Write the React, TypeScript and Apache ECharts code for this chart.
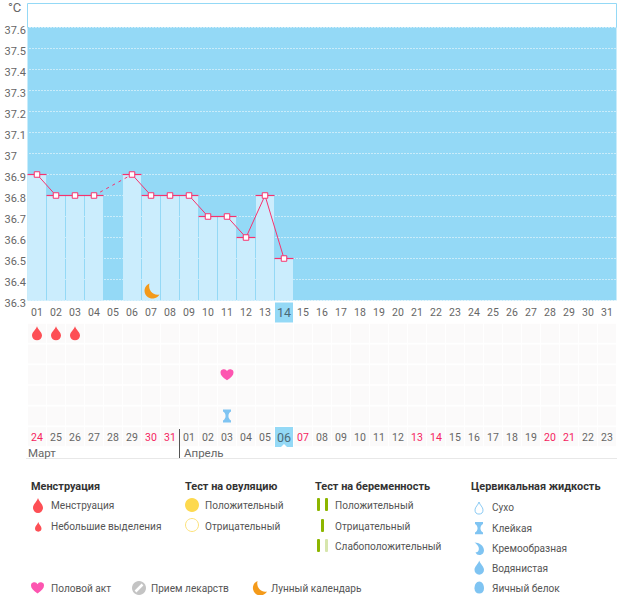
import React, { useEffect, useRef } from "react";
import * as echarts from "echarts";

const cycleDays = ["01","02","03","04","05","06","07","08","09","10","11","12","13","14","15","16","17","18","19","20","21","22","23","24","25","26","27","28","29","30","31"];
const dates = ["24","25","26","27","28","29","30","31","01","02","03","04","05","06","07","08","09","10","11","12","13","14","15","16","17","18","19","20","21","22","23"];
const redDates = [0, 6, 7, 14, 20, 21, 27, 28];
const todayIndex = 13;
const temps: (number | null)[] = [36.9,36.8,36.8,36.8,null,36.9,36.8,36.8,36.8,36.7,36.7,36.6,36.8,36.5];
const gapLine: [number, number][] = [[3, 36.8],[5, 36.9]];
const moonPoint = [[6, 36.345]];
const rowNames = ["r1","r2","r3","r4","r5","r6"];
const menstruation = [[0,0],[1,0],[2,0]];
const intercourse = [[10,2]];
const cervical = [[10,4]];

const DROP = "M5 0C6 3.5 10 6 10 9.3A5 4.9 0 0 1 0 9.3C0 6 4 3.5 5 0Z";
const HEART = "M6.5 11.5C2 8.5 0 6.3 0 3.6A3.4 3.4 0 0 1 6.5 2.2A3.4 3.4 0 0 1 13 3.6C13 6.3 11 8.5 6.5 11.5Z";
const HOUR = "M0 0H10V2C8 3 6.8 4.5 6.8 6.5C6.8 8.5 8 10 10 11V13H0V11C2 10 3.2 8.5 3.2 6.5C3.2 4.5 2 3 0 2Z";
const MOON = "M5.5 0A7.5 7.5 0 1 0 15 10.5C9.5 12 4 7 5.5 0Z";
const CREAM = "M0 0C5 0 10 3 10 8A4.8 4.8 0 0 1 1 10C4 10 5.5 7 4 4C3 2 1.5 1 0 0Z";
const EGG = "M5 0C8 0 10 3 10 7C10 10 8 12 5 12C2 12 0 10 0 7C0 3 2 0 5 0Z";

const FONT = "Roboto, sans-serif";
const GREY = "#666666";
const RED = "#f5245f";
const BLUE = "#94d9f6";
const ICON = "#7fc4f2";

const pathShapes: Record<string, string> = { lgDrop: DROP, lgHeart: HEART, lgHour: HOUR, lgMoon: MOON, lgCream: CREAM, lgEgg: EGG };
Object.keys(pathShapes).forEach((k) => {
  echarts.graphic.registerShape(k, (echarts.graphic as any).extendPath(pathShapes[k], {}));
});

function label(x: number, y: number, text: string, bold = false): any {
  return {
    type: "text", x, y, scaleX: bold ? 0.95 : 0.92, scaleY: 1,
    style: { text, fill: bold ? "#333333" : "#555555", font: `${bold ? "bold " : ""}${bold ? 11.5 : 11}px ${FONT}`, verticalAlign: "middle" },
  };
}
function icon(type: string, x: number, y: number, sx: number, sy: number, style: any): any {
  return { type, x, y, scaleX: sx, scaleY: sy, style };
}

const legend: any[] = [
  label(31, 486, "Менструация", true),
  icon("lgDrop", 33, 498, 1, 1.05, { fill: "#fd4f55" }),
  label(51, 505, "Менструация"),
  icon("lgDrop", 35, 522, 0.65, 0.68, { fill: "#fd4f55" }),
  label(51, 526, "Небольшие выделения"),
  label(185, 486, "Тест на овуляцию", true),
  { type: "circle", shape: { cx: 192, cy: 505, r: 7 }, style: { fill: "#fdd94f" } },
  label(205, 505, "Положительный"),
  { type: "circle", shape: { cx: 192, cy: 525, r: 6.5 }, style: { fill: "#fff", stroke: "#fde27a", lineWidth: 1 } },
  label(205, 526, "Отрицательный"),
  label(315, 486, "Тест на беременность", true),
  { type: "rect", shape: { x: 317, y: 498, width: 3, height: 13, r: 1 }, style: { fill: "#8db600" } },
  { type: "rect", shape: { x: 325, y: 498, width: 3, height: 13, r: 1 }, style: { fill: "#8db600" } },
  label(335, 505, "Положительный"),
  { type: "rect", shape: { x: 321, y: 519, width: 3, height: 13, r: 1 }, style: { fill: "#8db600" } },
  label(335, 526, "Отрицательный"),
  { type: "rect", shape: { x: 317, y: 539, width: 3, height: 13, r: 1 }, style: { fill: "#8db600" } },
  { type: "rect", shape: { x: 325, y: 539, width: 3, height: 13, r: 1 }, style: { fill: "#d7e6ad" } },
  label(335, 546, "Слабоположительный"),
  label(471, 486, "Цервикальная жидкость", true),
  icon("lgDrop", 475, 502, 0.8, 0.85, { fill: "#fff", stroke: ICON, lineWidth: 1.1 }),
  label(492, 507, "Сухо"),
  icon("lgHour", 475, 522, 0.8, 0.95, { fill: ICON }),
  label(492, 528, "Клейкая"),
  icon("lgCream", 474.5, 542.5, 0.95, 1, { fill: ICON }),
  label(492, 548, "Кремообразная"),
  icon("lgDrop", 474.5, 560.5, 0.95, 1, { fill: ICON }),
  label(492, 568, "Водянистая"),
  icon("lgEgg", 474.5, 581.5, 0.95, 1, { fill: ICON }),
  label(492, 588, "Яичный белок"),
  icon("lgHeart", 31, 582, 1, 1, { fill: "#fd55b0" }),
  label(51, 588, "Половой акт"),
  { type: "circle", shape: { cx: 139, cy: 588, r: 7 }, style: { fill: "#c4c4c4" } },
  { type: "line", shape: { x1: 135.5, y1: 591.5, x2: 142.5, y2: 584.5 }, style: { stroke: "#fff", lineWidth: 2.5 } },
  label(151, 588, "Прием лекарств"),
  icon("lgMoon", 252, 581, 1, 1, { fill: "#f49a1a" }),
  label(271, 588, "Лунный календарь"),
];

const frame: any[] = [
  { type: "rect", shape: { x: 27.5, y: 3.5, width: 589, height: 24 }, style: { fill: "#fff", stroke: BLUE, lineWidth: 1 } },
  { type: "text", x: 8, y: 1, style: { text: "°C", fill: GREY, font: `13px ${FONT}` } },
  { type: "line", shape: { x1: 179.5, y1: 429, x2: 179.5, y2: 458 }, style: { stroke: "#555", lineWidth: 1 } },
  { type: "line", shape: { x1: 26, y1: 458.5, x2: 617, y2: 458.5 }, style: { stroke: "#e8e8e8", lineWidth: 1 } },
  { type: "text", x: 28, y: 453, style: { text: "Март", fill: GREY, font: `11.5px ${FONT}`, verticalAlign: "middle" } },
  { type: "text", x: 184, y: 453, style: { text: "Апрель", fill: GREY, font: `11.5px ${FONT}`, verticalAlign: "middle" } },
  { type: "polygon", z: 50, shape: { points: [[281, 447], [287, 447], [284, 444]] }, style: { fill: "#fff" } },
];

const cells: number[][] = [];
rowNames.forEach((_, r) => dates.forEach((__, c) => cells.push([c, r])));

const selRich = { backgroundColor: BLUE, width: 18, height: 20, align: "center", verticalAlign: "middle", fontSize: 12.5, color: "#4a6a78", fontFamily: FONT };
const numStyle = { color: GREY, fontSize: 10.5, fontFamily: FONT, height: 20, verticalAlign: "middle" };

const option: any = {
  animation: false,
  backgroundColor: "#fff",
  textStyle: { fontFamily: FONT },
  grid: [
    { left: 27.5, top: 27.5, width: 589, height: 273, show: true, backgroundColor: BLUE, borderWidth: 0, containLabel: false },
    { left: 27.5, top: 323, width: 589, height: 124, containLabel: false },
  ],
  xAxis: [
    {
      type: "category", gridIndex: 0, data: cycleDays, boundaryGap: true,
      axisLine: { show: false }, axisTick: { show: false },
      axisLabel: {
        interval: 0, margin: 2, color: GREY, fontSize: 10.5, fontFamily: FONT,
        formatter: (v: string, i: number) => (i === todayIndex ? `{sel|${v}}` : `{n|${v}}`),
        rich: { n: numStyle, sel: selRich },
      },
    },
    {
      type: "category", gridIndex: 1, data: dates, boundaryGap: true, z: 6,
      axisLine: { show: false }, axisTick: { show: false },
      axisLabel: {
        inside: true, interval: 0, margin: 0, color: GREY, fontSize: 10.5, fontFamily: FONT,
        formatter: (v: string, i: number) => (i === todayIndex ? `{sel|${v}}` : redDates.includes(i) ? `{r|${v}}` : `{n|${v}}`),
        rich: { n: numStyle, r: { ...numStyle, color: RED }, sel: selRich },
      },
    },
  ],
  yAxis: [
    {
      type: "value", gridIndex: 0, min: 36.3, max: 37.6, interval: 0.1,
      axisLine: { show: false }, axisTick: { show: false },
      axisLabel: { align: "left", margin: 23, color: GREY, fontSize: 11, fontFamily: FONT, verticalAlign: "top", padding: [-3, 0, 0, 0] },
      splitLine: { show: true, lineStyle: { color: "#fff", type: [1, 2], dashOffset: 0.5, width: 1 } },
    },
    {
      type: "category", gridIndex: 1, data: rowNames, inverse: true,
      axisLine: { show: false }, axisTick: { show: false }, axisLabel: { show: false },
    },
  ],
  series: [
    { type: "bar", xAxisIndex: 0, yAxisIndex: 0, data: temps, barWidth: 18, itemStyle: { color: "#cbedfd" }, z: 2 },
    { type: "scatter", xAxisIndex: 0, yAxisIndex: 0, data: temps.map((t, i) => (t == null ? null : [i, t])), symbol: "rect", symbolSize: [19, 1.2], itemStyle: { color: "#f7326e", opacity: 1 }, z: 3 },
    { type: "line", xAxisIndex: 0, yAxisIndex: 0, data: gapLine, showSymbol: false, lineStyle: { color: "#f7326e", width: 1, type: [3, 4] }, z: 4 },
    {
      type: "line", xAxisIndex: 0, yAxisIndex: 0, data: temps, connectNulls: false, symbol: "rect", symbolSize: 5.5, showAllSymbol: true,
      lineStyle: { color: "#f7326e", width: 1 }, itemStyle: { color: "#fff", borderColor: "#f7326e", borderWidth: 1 }, z: 5,
    },
    { type: "scatter", xAxisIndex: 0, yAxisIndex: 0, data: moonPoint, symbol: `path://${MOON}`, symbolSize: [15, 15], symbolOffset: [1, 0], itemStyle: { color: "#f49a1a", opacity: 1 }, z: 5 },
    { type: "scatter", xAxisIndex: 1, yAxisIndex: 1, data: cells, symbol: "rect", symbolSize: [18, 19], itemStyle: { color: "#fbfafa", opacity: 1 }, z: 2 },
    { type: "scatter", xAxisIndex: 1, yAxisIndex: 1, data: menstruation, symbol: `path://${DROP}`, symbolSize: [10, 14], itemStyle: { color: "#fd4f55", opacity: 1 }, z: 4 },
    { type: "scatter", xAxisIndex: 1, yAxisIndex: 1, data: intercourse, symbol: `path://${HEART}`, symbolSize: [13, 11], itemStyle: { color: "#fd55b0", opacity: 1 }, z: 4 },
    { type: "scatter", xAxisIndex: 1, yAxisIndex: 1, data: cervical, symbol: `path://${HOUR}`, symbolSize: [8, 13], itemStyle: { color: ICON, opacity: 1 }, z: 4 },
  ],
  graphic: { elements: [...frame, ...legend] },
};

export default function App() {
  const ref = useRef<HTMLDivElement>(null);
  useEffect(() => {
    document.body.style.margin = "0";
    const chart = echarts.init(ref.current!, undefined, { renderer: "svg" });
    chart.setOption(option);
    return () => chart.dispose();
  }, []);
  return <div ref={ref} style={{ width: 626, height: 595 }} />;
}
